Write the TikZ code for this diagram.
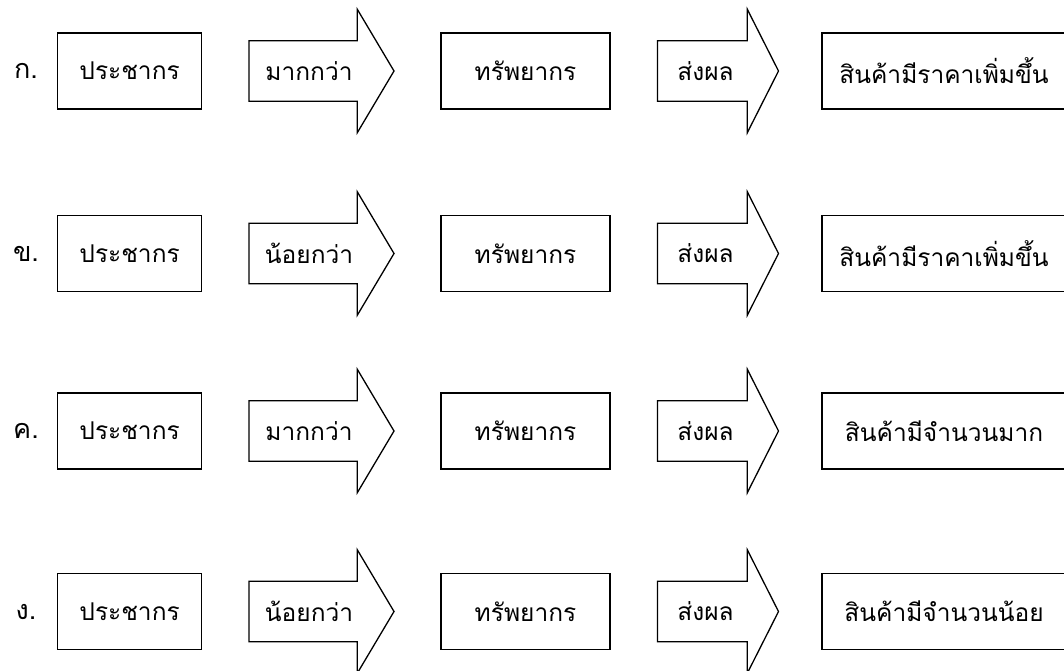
\documentclass[tikz,border=0pt]{standalone}
\usepackage{fontspec}
\setmainfont[Script=Thai]{Loma}
\newcommand\diagrow[6]{%
  % #1 id, #2 centre y, #3 label, #4 first arrow text, #5 result text
  \node[lbl] (l#1) at (26,#2) {#3};
  \node[box, minimum width=144pt] (p#1) at (129.6,#2) {ประชากร};
  \draw[arr] (249,{#2-30.3}) -- (357.3,{#2-30.3}) -- (357.3,{#2-61.7}) -- (394,#2)
     -- (357.3,{#2+61.7}) -- (357.3,{#2+30.3}) -- (249,{#2+30.3}) -- cycle;
  \node[txt] (a#1) at (309,#2) {#4};
  \node[box, minimum width=169pt] (r#1) at (525.5,#2) {ทรัพยากร};
  \draw[arr] (657.4,{#2-30.3}) -- (747.3,{#2-30.3}) -- (747.3,{#2-61.7}) -- (778.5,#2)
     -- (747.3,{#2+61.7}) -- (747.3,{#2+30.3}) -- (657.4,{#2+30.3}) -- cycle;
  \node[txt] (b#1) at (705.5,#2) {ส่งผล};
  \node[box, minimum width=244pt] (s#1) at (944,#2) {#5};
}
\begin{document}
\begin{tikzpicture}[x=1pt,y=-1pt,
  box/.style={draw, line width=1.3pt, minimum height=76pt, inner sep=0pt, font=\fontsize{24.5}{29}\selectfont},
  txt/.style={inner sep=0pt, font=\fontsize{24.5}{29}\selectfont},
  lbl/.style={inner sep=0pt, font=\fontsize{27}{31}\selectfont},
  arr/.style={draw, line width=1.3pt, line join=miter}]
\clip (0,0) rectangle (1064,670);
\diagrow{1}{71}{ก.}{มากกว่า}{สินค้ามีราคาเพิ่มขึ้น}{}
\diagrow{2}{253.5}{ข.}{น้อยกว่า}{สินค้ามีราคาเพิ่มขึ้น}{}
\diagrow{3}{431}{ค.}{มากกว่า}{สินค้ามีจำนวนมาก}{}
\diagrow{4}{611.5}{ง.}{น้อยกว่า}{สินค้ามีจำนวนน้อย}{}
\end{tikzpicture}
\end{document}
